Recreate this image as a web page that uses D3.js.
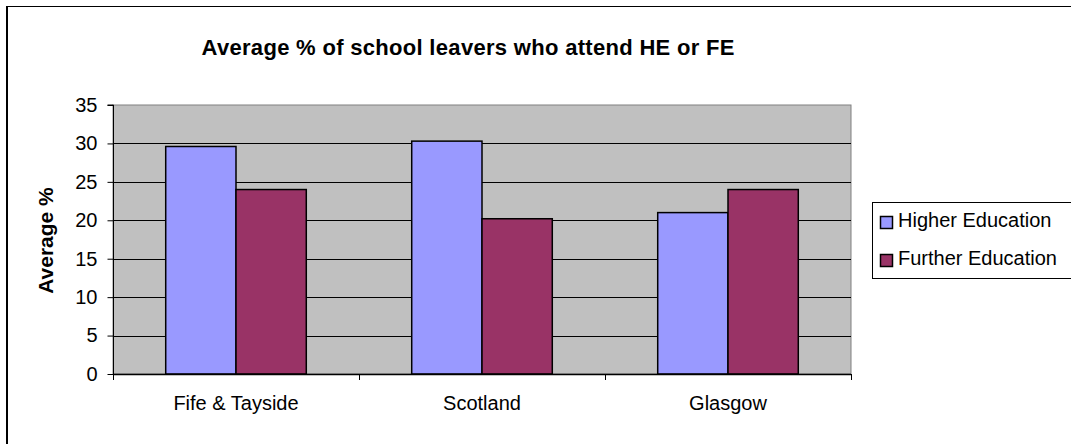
<!DOCTYPE html>
<html>
<head>
<meta charset="utf-8">
<script src="https://cdn.jsdelivr.net/npm/d3@7"></script>
<style>
  html, body { margin: 0; padding: 0; background: #fff; }
  svg { display: block; font-family: Arial, "Liberation Sans", sans-serif; }
</style>
</head>
<body>
<svg id="chart" width="1071" height="444"></svg>
<script>
// Regions compared in the chart
const categories = ["Fife & Tayside", "Scotland", "Glasgow"];
// Series names and their values (average %)
const seriesNames = ["Higher Education", "Further Education"];
const higherEducation = [29.6, 30.3, 21.0];
const furtherEducation = [24.0, 20.2, 24.0];
// Value-axis ticks
const yTicks = [0, 5, 10, 15, 20, 25, 30, 35];

const colors = { "Higher Education": "#9999FF", "Further Education": "#993366" };
const seriesValues = { "Higher Education": higherEducation, "Further Education": furtherEducation };

const svg = d3.select("#chart");
const plot = { left: 113, right: 851, top: 105, bottom: 374 };
const FONT = 20;

// Outer chart frame
svg.append("rect")
  .attr("x", 7.5).attr("y", 6.5)
  .attr("width", 1100).attr("height", 460)
  .attr("fill", "#fff").attr("stroke", "#000").attr("stroke-width", 1);
svg.append("line")
  .attr("x1", 7).attr("x2", 7).attr("y1", 6).attr("y2", 444)
  .attr("stroke", "#000").attr("stroke-width", 2);

const x0 = d3.scaleBand()
  .domain(categories)
  .range([plot.left, plot.right])
  .paddingInner(0).paddingOuter(0);

// Two bars per group with a 150% gap between groups
const barW = x0.bandwidth() / 3.5;
const x1 = d3.scaleBand()
  .domain(seriesNames)
  .range([0, barW * 2]);

const y = d3.scaleLinear().domain([0, 35]).range([plot.bottom, plot.top]);

// Plot area
svg.append("rect")
  .attr("x", plot.left).attr("y", plot.top)
  .attr("width", plot.right - plot.left).attr("height", plot.bottom - plot.top)
  .attr("fill", "#C0C0C0").attr("stroke", "#808080").attr("stroke-width", 1);

// Gridlines
svg.append("g").selectAll("line")
  .data(yTicks.filter(t => t > 0 && t < 35))
  .join("line")
  .attr("x1", plot.left).attr("x2", plot.right)
  .attr("y1", d => Math.round(y(d)) + 0.5).attr("y2", d => Math.round(y(d)) + 0.5)
  .attr("stroke", "#000").attr("stroke-width", 1);

// Bars
const groups = svg.append("g").selectAll("g")
  .data(categories)
  .join("g")
  .attr("transform", c => `translate(${x0(c) + barW * 0.75},0)`);

groups.selectAll("rect")
  .data((c, i) => seriesNames.map(s => ({ s, v: seriesValues[s][i] })))
  .join("rect")
  .attr("x", d => x1(d.s))
  .attr("y", d => y(d.v))
  .attr("width", x1.bandwidth())
  .attr("height", d => y(0) - y(d.v))
  .attr("fill", d => colors[d.s])
  .attr("stroke", "#000").attr("stroke-width", 1.5);

// Y axis
const yAxis = d3.axisLeft(y).tickValues(yTicks).tickSize(6).tickPadding(10).tickFormat(d3.format("d"));
const yg = svg.append("g").attr("transform", `translate(${plot.left + 0.5},0)`).call(yAxis);
yg.select(".domain").attr("stroke", "#000").attr("d", `M-6,${plot.top}H0V${plot.bottom}`);
yg.selectAll("line").attr("stroke", "#000");
yg.selectAll("text").attr("font-size", FONT).attr("fill", "#000").attr("font-family", "Arial, 'Liberation Sans', sans-serif");

// X axis line with category separator ticks
const xg = svg.append("g");
xg.append("line")
  .attr("x1", plot.left).attr("x2", plot.right)
  .attr("y1", plot.bottom + 0.5).attr("y2", plot.bottom + 0.5)
  .attr("stroke", "#000").attr("stroke-width", 1.5);
const boundaries = categories.map(c => x0(c)).concat([x0(categories[categories.length - 1]) + x0.bandwidth()]);
xg.selectAll("line.tick")
  .data(boundaries)
  .join("line").attr("class", "tick")
  .attr("x1", d => Math.round(d) + 0.5).attr("x2", d => Math.round(d) + 0.5)
  .attr("y1", plot.bottom).attr("y2", plot.bottom + 6)
  .attr("stroke", "#000");
xg.selectAll("text")
  .data(categories)
  .join("text")
  .attr("x", c => x0(c) + x0.bandwidth() / 2)
  .attr("y", 410)
  .attr("text-anchor", "middle")
  .attr("font-size", FONT)
  .text(c => c);

// Title
svg.append("text")
  .attr("x", 468).attr("y", 55)
  .attr("text-anchor", "middle")
  .attr("font-size", 22).attr("font-weight", "bold")
  .attr("textLength", 533).attr("lengthAdjust", "spacing")
  .text("Average % of school leavers who attend HE or FE");

// Y axis title
svg.append("text")
  .attr("transform", `translate(53,${(plot.top + plot.bottom) / 2 + 1}) rotate(-90)`)
  .attr("text-anchor", "middle")
  .attr("font-size", 21).attr("font-weight", "bold")
  .text("Average %");

// Legend
const legend = svg.append("g");
legend.append("rect")
  .attr("x", 872.5).attr("y", 202.5).attr("width", 220).attr("height", 76)
  .attr("fill", "#fff").attr("stroke", "#000").attr("stroke-width", 1);
const items = legend.selectAll("g.item")
  .data(seriesNames)
  .join("g").attr("class", "item")
  .attr("transform", (d, i) => `translate(0,${227 + i * 38})`);
items.append("rect")
  .attr("x", 880.5).attr("y", -10.5).attr("width", 12).attr("height", 12)
  .attr("fill", d => colors[d]).attr("stroke", "#000").attr("stroke-width", 1.5);
items.append("text")
  .attr("x", 898).attr("y", 0)
  .attr("font-size", FONT)
  .text(d => d);
</script>
</body>
</html>
